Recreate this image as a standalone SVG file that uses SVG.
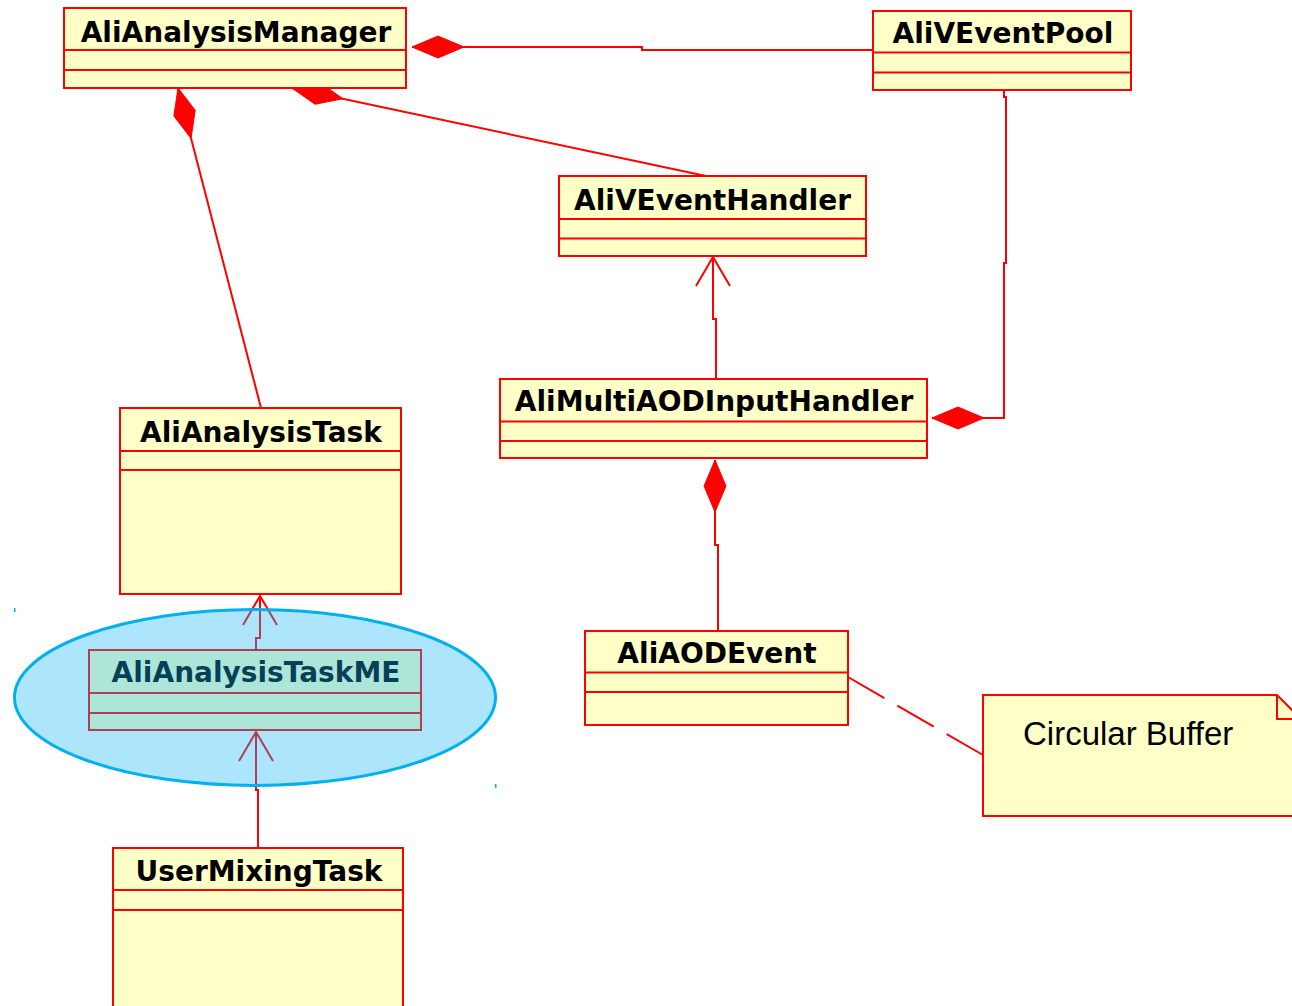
<svg xmlns="http://www.w3.org/2000/svg" width="1292" height="1006" viewBox="0 0 1292 1006">
  <style>
    .box { fill: #ffffc8; stroke: #ff0000; stroke-width: 2; }
    .div { stroke: #ff0000; stroke-width: 2; fill: none; }
    .title { font-family: "DejaVu Sans", "Liberation Sans", sans-serif; font-weight: bold; font-size: 28px; fill: #000000; text-anchor: middle; }
    .note-text { font-family: "Liberation Sans", "DejaVu Sans", sans-serif; font-size: 33px; fill: #000000; }
    .conn { stroke: #ff0000; stroke-width: 2; fill: none; }
    .comp { marker-start: url(#diamond); }
    .gen { marker-end: url(#openarrow); }
    .dash { stroke-dasharray: 42 15; }
  </style>
  <defs>
    <marker id="diamond" markerUnits="userSpaceOnUse" markerWidth="54" markerHeight="24" refX="0" refY="11" orient="auto" overflow="visible">
      <path d="M0,11 L26,0 L52,11 L26,22 Z" fill="#ff0000" stroke="#ff0000" stroke-width="1"/>
    </marker>
    <marker id="openarrow" markerUnits="userSpaceOnUse" markerWidth="32" markerHeight="36" refX="29" refY="17" orient="auto" overflow="visible">
      <path d="M0,0 L29,17 L0,34" fill="none" stroke="#ff0000" stroke-width="2"/>
    </marker>
  </defs>
  <rect width="1292" height="1006" fill="#ffffff"/>

  <g id="connectors">
    <path class="conn comp" d="M412,47 H642 V50 H873"/>
    <path class="conn comp" d="M292,88 L706,176"/>
    <path class="conn comp" d="M178,88 L261,408"/>
    <path class="conn comp" d="M932,418 H1004 V263 H1006 V97 H1004 V90"/>
    <path class="conn comp" d="M715,460 V545 H718 V631"/>
    <path class="conn gen" d="M716,379 V319 H713 V257"/>
    <path class="conn gen" d="M256,650 V638 H260 V596"/>
    <path class="conn gen" d="M258,848 V790 H256 V732"/>
    <path class="conn dash" d="M848,677 L983,755"/>
  </g>

  <g id="AliAnalysisManager">
    <rect class="box" x="64" y="8" width="342" height="80"/>
    <path class="div" d="M64,50 H406 M64,70 H406"/>
    <text class="title" x="236" y="42">AliAnalysisManager</text>
  </g>

  <g id="AliVEventPool">
    <rect class="box" x="873" y="11" width="258" height="79"/>
    <path class="div" d="M873,52.5 H1131 M873,72.5 H1131"/>
    <text class="title" x="1003" y="43">AliVEventPool</text>
  </g>

  <g id="AliVEventHandler">
    <rect class="box" x="559" y="176" width="307" height="80"/>
    <path class="div" d="M559,219 H866 M559,238.5 H866"/>
    <text class="title" x="712.5" y="210">AliVEventHandler</text>
  </g>

  <g id="AliMultiAODInputHandler">
    <rect class="box" x="500" y="379" width="427" height="79"/>
    <path class="div" d="M500,421.5 H927 M500,441 H927"/>
    <text class="title" x="714" y="411">AliMultiAODInputHandler</text>
  </g>

  <g id="AliAnalysisTask">
    <rect class="box" x="120" y="408" width="281" height="186"/>
    <path class="div" d="M120,451 H401 M120,470 H401"/>
    <text class="title" x="261" y="442">AliAnalysisTask</text>
  </g>

  <g id="AliAnalysisTaskME">
    <rect class="box" x="89" y="650" width="332" height="80"/>
    <path class="div" d="M89,693 H421 M89,713 H421"/>
    <text class="title" x="256" y="682">AliAnalysisTaskME</text>
  </g>

  <g id="UserMixingTask">
    <rect class="box" x="113" y="848" width="290" height="170"/>
    <path class="div" d="M113,890 H403 M113,910 H403"/>
    <text class="title" x="259" y="881">UserMixingTask</text>
  </g>

  <g id="AliAODEvent">
    <rect class="box" x="585" y="631" width="263" height="94"/>
    <path class="div" d="M585,672.5 H848 M585,692 H848"/>
    <text class="title" x="717" y="663">AliAODEvent</text>
  </g>

  <g id="CircularBufferNote">
    <path class="box" d="M983,695 H1277 L1301,719 V816 H983 Z"/>
    <path class="div" d="M1277,695 V719 H1301"/>
    <text class="note-text" x="1023" y="745">Circular Buffer</text>
  </g>

  <g id="highlight">
    <ellipse cx="255" cy="697.5" rx="240.5" ry="88" fill="rgb(20,183,245)" fill-opacity="0.35" stroke="#00b0f0" stroke-width="3"/>
    <rect x="14" y="608" width="1.5" height="4" fill="#00b0f0"/>
    <rect x="495" y="784" width="1.5" height="4" fill="#00b0f0"/>
  </g>
</svg>
